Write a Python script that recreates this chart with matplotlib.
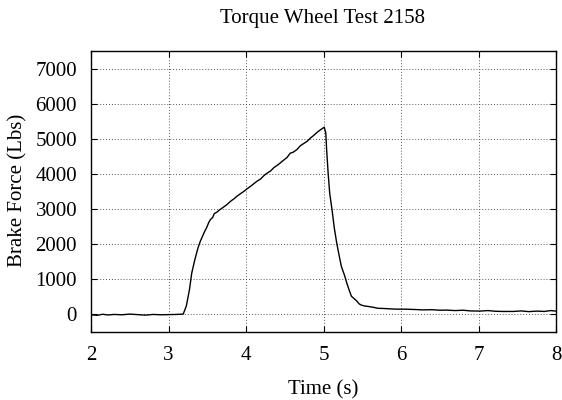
import matplotlib
matplotlib.use("Agg")
import matplotlib.pyplot as plt

# brake force trace
time_s = [2.00, 2.08, 2.15, 2.22, 2.30, 2.40, 2.50, 2.60, 2.70, 2.80, 2.90, 3.00,
          3.10, 3.19, 3.23, 3.27, 3.30, 3.34, 3.38, 3.41, 3.44, 3.47, 3.49, 3.52,
          3.54, 3.57, 3.59, 3.63, 3.66, 3.70, 3.75, 3.80, 3.85, 3.88, 3.93, 3.97,
          4.01, 4.06, 4.10, 4.14, 4.19, 4.23, 4.27, 4.32, 4.36, 4.40, 4.44, 4.49,
          4.53, 4.57, 4.61, 4.66, 4.70, 4.74, 4.79, 4.83, 4.87, 4.91, 4.95, 4.99,
          5.01, 5.03, 5.04, 5.06, 5.08, 5.11, 5.14, 5.17, 5.20, 5.23, 5.27, 5.30,
          5.33, 5.36, 5.40, 5.43, 5.46, 5.49, 5.53, 5.57, 5.60, 5.65, 5.70, 5.77,
          5.85, 5.95, 6.05, 6.16, 6.28, 6.40, 6.50, 6.59, 6.70, 6.80, 6.90, 7.02,
          7.12, 7.22, 7.32, 7.45, 7.55, 7.65, 7.75, 7.85, 7.93, 8.00]
force_lbs = [-10, -25, 5, -15, 0, -10, 10, -5, -20, 0, -10, -5,
             0, 10, 240, 700, 1180, 1560, 1890, 2080, 2230, 2380, 2460, 2620,
             2700, 2760, 2870, 2920, 2980, 3040, 3120, 3220, 3300, 3360, 3440, 3500,
             3570, 3650, 3720, 3790, 3860, 3950, 4020, 4090, 4180, 4240, 4310, 4400,
             4470, 4590, 4620, 4700, 4800, 4860, 4930, 5020, 5090, 5170, 5240, 5300,
             5330, 5160, 4700, 4020, 3450, 2980, 2450, 2040, 1700, 1370, 1120, 900,
             700, 520, 440, 380, 300, 265, 240, 230, 218, 200, 175, 170,
             160, 150, 150, 142, 130, 135, 120, 123, 110, 120, 100, 95,
             110, 90, 85, 85, 100, 80, 95, 85, 110, 95]

x_ticks = [2, 3, 4, 5, 6, 7, 8]
y_ticks = [0, 1000, 2000, 3000, 4000, 5000, 6000, 7000]

plt.rcParams['font.family'] = ['Liberation Serif', 'DejaVu Serif']
plt.rcParams['font.size'] = 15

W, H = 562, 400
fig = plt.figure(figsize=(W / 100, H / 100), dpi=100)
ax = fig.add_axes([91 / W, 1 - 332 / H, (556 - 91) / W, (332 - 51) / H])

ax.plot(time_s, force_lbs, color='black', linewidth=1.0)

ax.set_xlim(2, 8)
ax.set_ylim(-500, 7500)
ax.set_xticks(x_ticks)
ax.set_yticks(y_ticks)
ax.grid(True, color='#555555', linestyle=(0, (1, 2)), linewidth=0.7)
ax.tick_params(direction='in', top=True, right=True, length=4, width=0.8, pad=10)
for sp in ax.spines.values():
    sp.set_linewidth(1.0)

fig.text(323 / W, 1 - 390 / H, 'Time (s)', ha='center', va='center')
fig.text(18 / W, 1 - 190 / H, 'Brake Force (Lbs)', ha='center', va='center', rotation=90)
fig.text(323 / W, 1 - 19 / H, 'Torque Wheel Test 2158', ha='center', va='center')

fig.savefig('out.png', dpi=100)
